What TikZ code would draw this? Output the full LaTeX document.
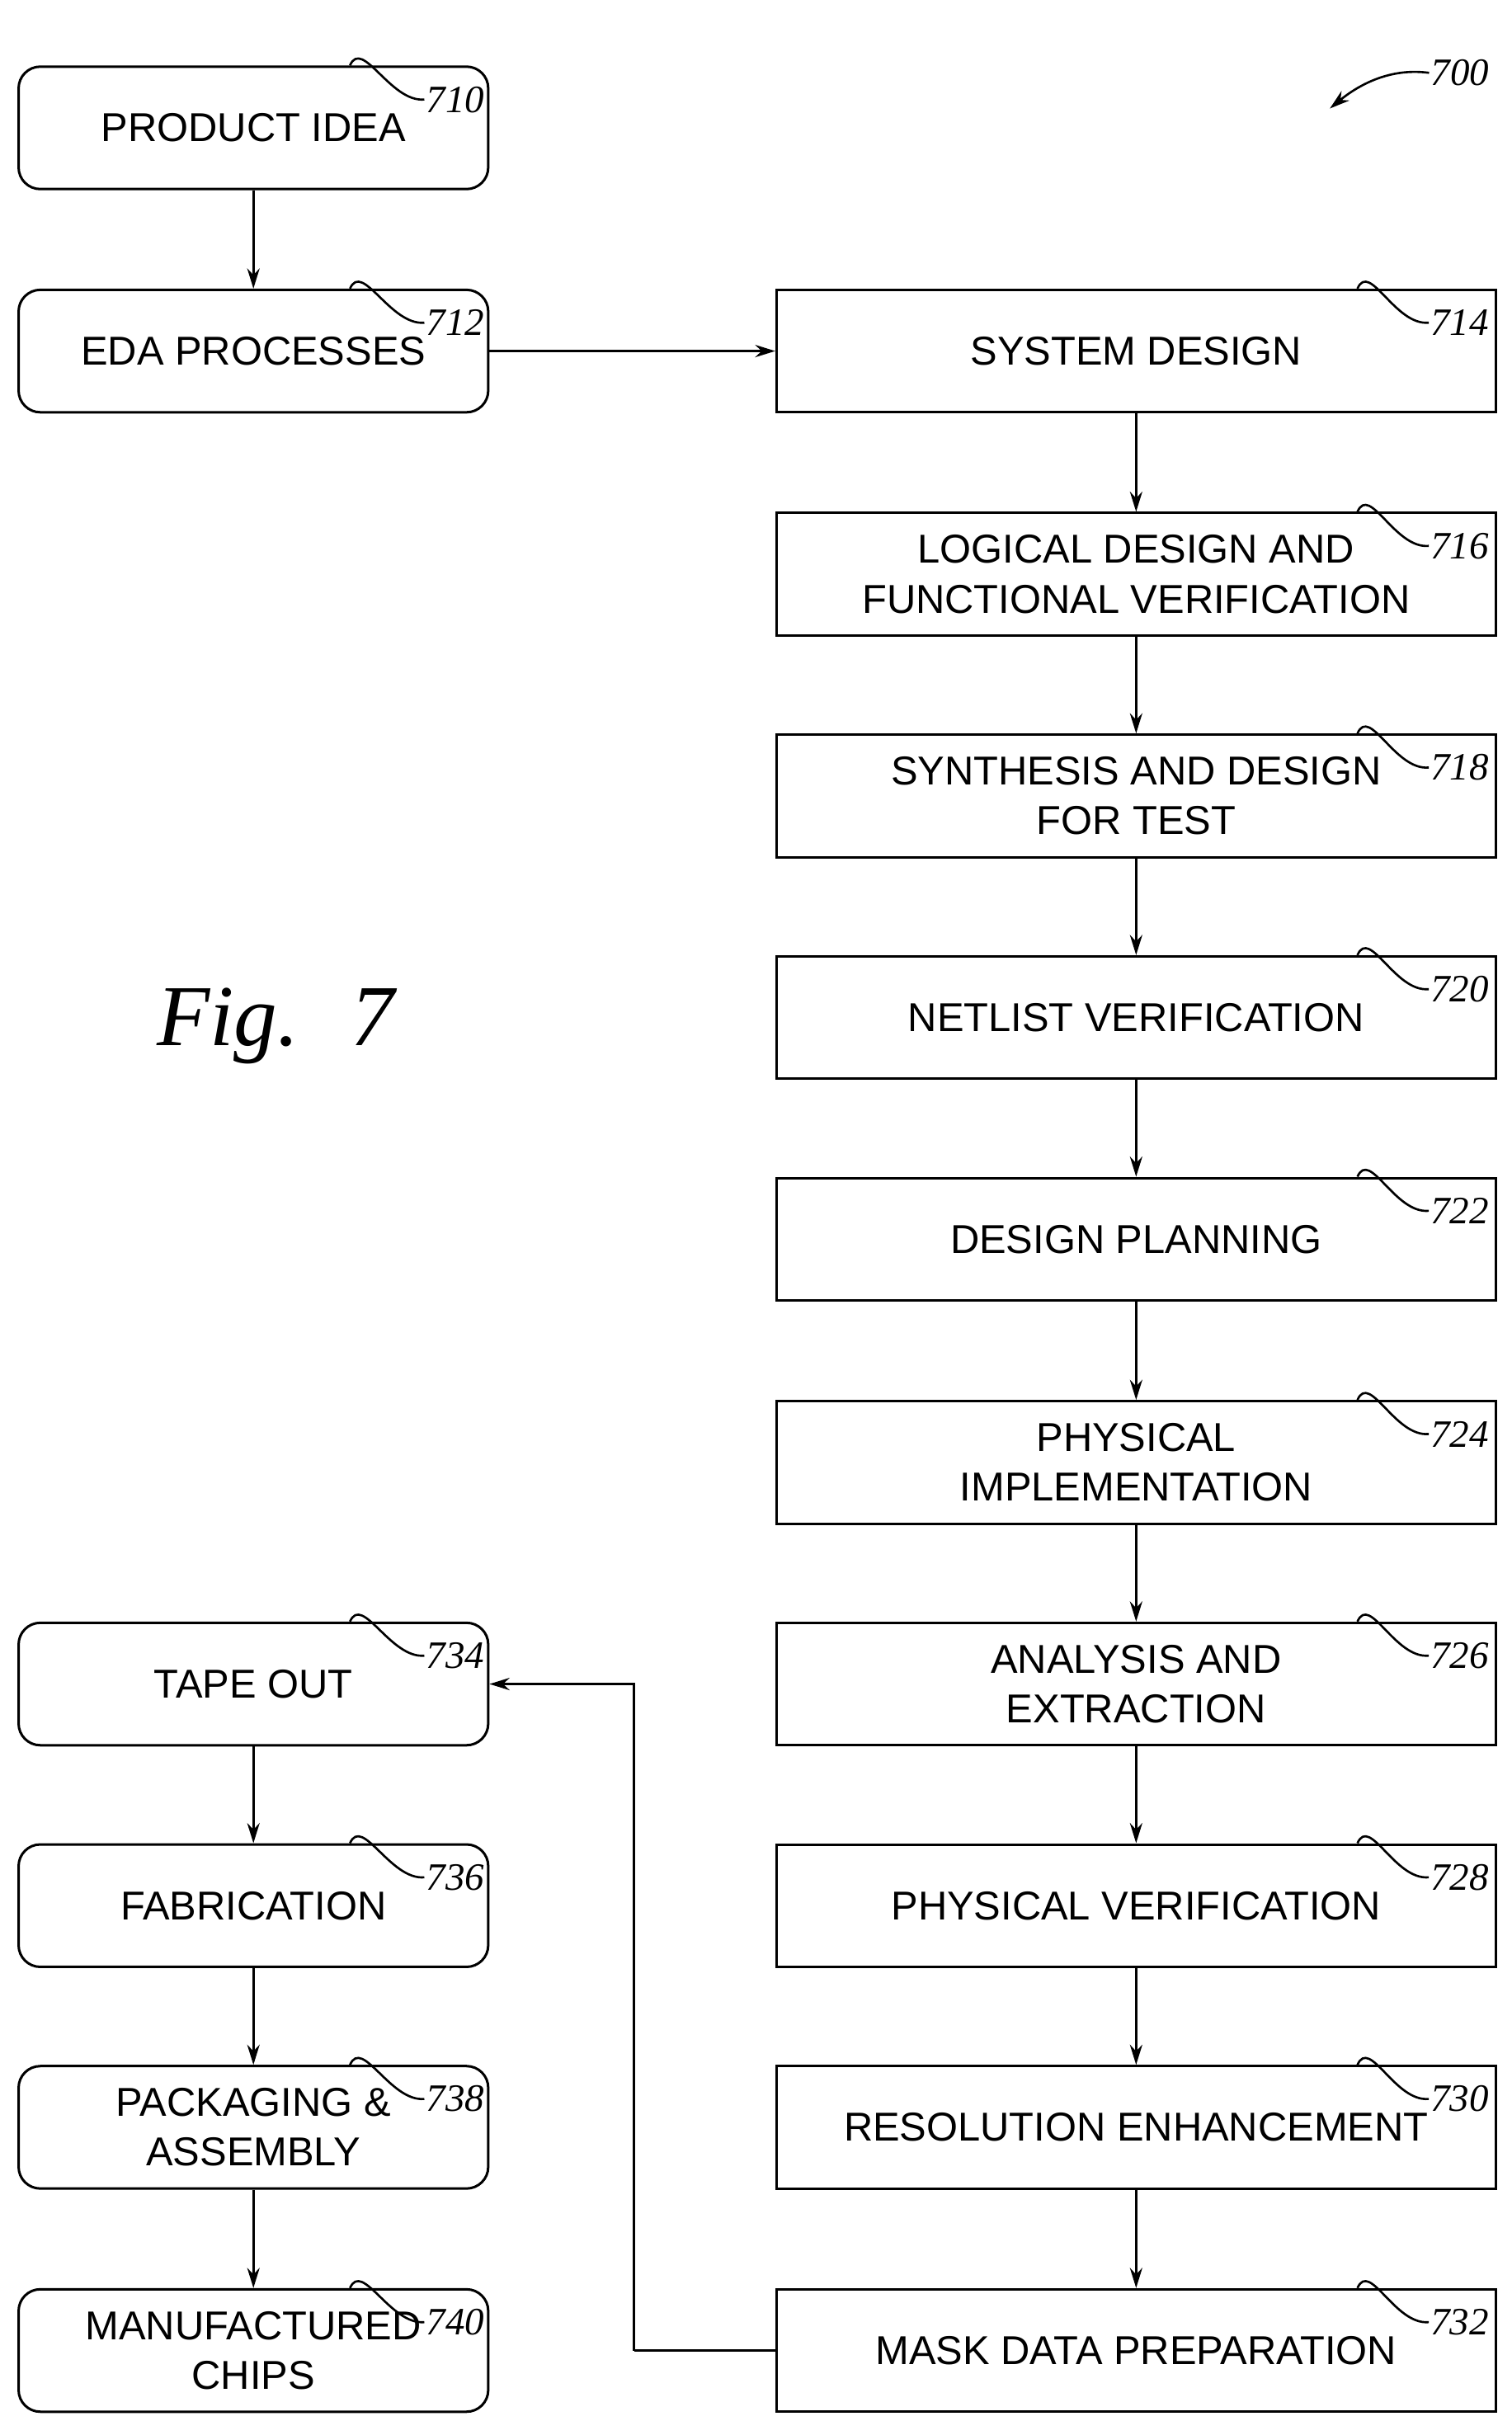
\documentclass[tikz,border=0pt]{standalone}
\usepackage{fontspec}
\usetikzlibrary{arrows.meta}
\setmainfont{Liberation Sans}
\newfontfamily\serifit{Liberation Serif}
\begin{document}
\begin{tikzpicture}[x=1pt,y=-1pt,
  lbox/.style={draw,line width=1.6pt,rounded corners=14pt,minimum width=303pt,minimum height=79pt,inner sep=0pt,font=\fontsize{26}{32}\selectfont,align=center},
  rbox/.style={draw,line width=1.6pt,minimum width=464pt,minimum height=79pt,inner sep=0pt,font=\fontsize{26}{32}\selectfont,align=center},
  ref/.style={font=\serifit\itshape\fontsize{25}{30}\selectfont,anchor=west,inner sep=1pt},
  lead/.style={line width=1.4pt},
  arr/.style={line width=1.6pt,-{Stealth[length=13pt,width=8pt]}}]
\useasboundingbox (0,0) rectangle (975,1562);
% left column
\node[lbox] (a710) at (163.5,82.5) {PRODUCT IDEA};
\node[lbox] (a712) at (163.5,226.5) {EDA PROCESSES};
\node[lbox] (a734) at (163.5,1086.5) {TAPE OUT};
\node[lbox] (a736) at (163.5,1229.5) {FABRICATION};
\node[lbox] (a738) at (163.5,1372.5) {PACKAGING \&\\ASSEMBLY};
\node[lbox] (a740) at (163.5,1516.5) {MANUFACTURED\\CHIPS};
% right column
\node[rbox] (a714) at (733,226.5) {SYSTEM DESIGN};
\node[rbox] (a716) at (733,370.5) {LOGICAL DESIGN AND\\FUNCTIONAL VERIFICATION};
\node[rbox] (a718) at (733,513.5) {SYNTHESIS AND DESIGN\\FOR TEST};
\node[rbox] (a720) at (733,656.5) {NETLIST VERIFICATION};
\node[rbox] (a722) at (733,799.5) {DESIGN PLANNING};
\node[rbox] (a724) at (733,943.5) {PHYSICAL\\IMPLEMENTATION};
\node[rbox] (a726) at (733,1086.5) {ANALYSIS AND\\EXTRACTION};
\node[rbox] (a728) at (733,1229.5) {PHYSICAL VERIFICATION};
\node[rbox] (a730) at (733,1372.5) {RESOLUTION ENHANCEMENT};
\node[rbox] (a732) at (733,1516.5) {MASK DATA PREPARATION};
% arrows
\draw[arr] (a710) -- (a712);
\draw[arr] (a734) -- (a736);
\draw[arr] (a736) -- (a738);
\draw[arr] (a738) -- (a740);
\draw[arr] (a712) -- (a714);
\foreach \p/\q in {714/716,716/718,718/720,720/722,722/724,724/726,726/728,728/730,730/732}
  \draw[arr] (a\p) -- (a\q);
\coordinate (bend1) at (409,1516.5);
\coordinate (bend2) at (409,1086.5);
\draw[line width=1.6pt] (a732.west) -- (bend1);
\draw[arr] (bend1) -- (bend2) -- (a734.east);
% reference labels
\foreach \n in {710,712,734,736,738,740}{
  \node[ref] (r\n) at ([xshift=-42pt,yshift=-22pt]a\n.north east) {\n};
  \coordinate (s\n) at ([xshift=-90pt]a\n.north east);
  \draw[lead] (s\n) .. controls ++(8,-18) and ++(-22,2) .. (r\n.west);
}
\foreach \n in {714,716,718,720,722,724,726,728,730,732}{
  \node[ref] (r\n) at ([xshift=-44pt,yshift=-22pt]a\n.north east) {\n};
  \coordinate (s\n) at ([xshift=-90pt]a\n.north east);
  \draw[lead] (s\n) .. controls ++(8,-18) and ++(-22,2) .. (r\n.west);
}
\node[ref] (r700) at (922,47) {700};
\coordinate (t700) at (858,70);
\draw[line width=1.4pt,-{Stealth[length=13pt,width=8pt]}] (r700.west) .. controls (900,44) and (880,52) .. (t700);
\node[font=\serifit\itshape\fontsize{56}{60}\selectfont] (fig) at (178,662) {Fig.\hspace{0.6em}7};
\end{tikzpicture}
\end{document}
